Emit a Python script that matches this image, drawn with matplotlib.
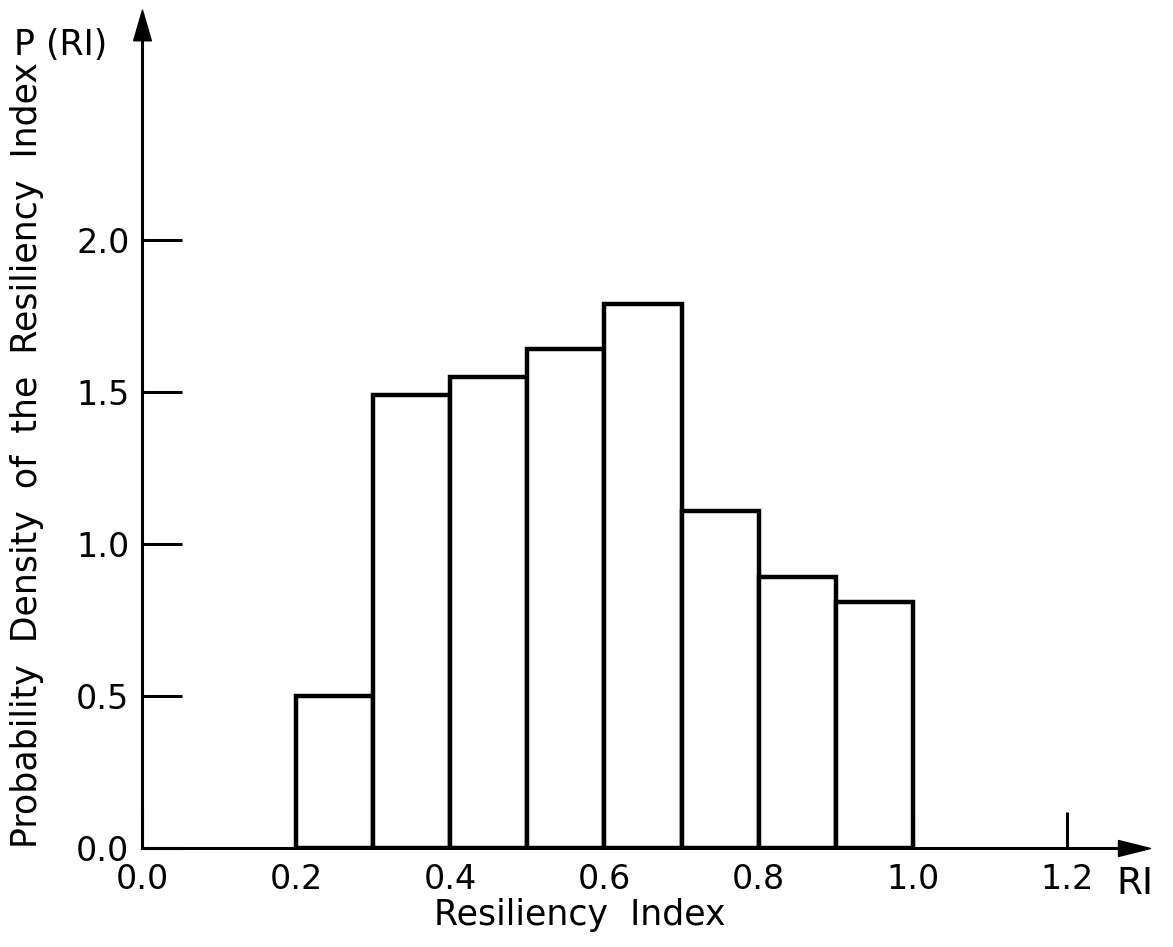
import numpy as np
import matplotlib
matplotlib.use("Agg")
import matplotlib.pyplot as plt

# histogram of the resiliency index
bin_edges = [0.2, 0.3, 0.4, 0.5, 0.6, 0.7, 0.8, 0.9, 1.0]
density = [0.50, 1.49, 1.55, 1.64, 1.79, 1.11, 0.89, 0.81]

x_ticks = [0.0, 0.2, 0.4, 0.6, 0.8, 1.0, 1.2]
x_labels = ["0.0", "0.2", "0.4", "0.6", "0.8", "1.0", "1.2"]
y_ticks = [0.0, 0.5, 1.0, 1.5, 2.0]
y_labels = ["0.0", "0.5", "1.0", "1.5", "2.0"]

plt.rcParams['font.family'] = ['DejaVu Sans']

W, H = 1173, 947
fig = plt.figure(figsize=(W / 100, H / 100), dpi=100)
# axes: left spine at x=142px, x-axis at y=848px, arrow heads centred at the axes ends
ax = fig.add_axes([142 / W, 99 / H, (1134 - 142) / W, (848 - 25) / H])

lefts = np.array(bin_edges[:-1])
widths = np.diff(bin_edges)
ax.bar(lefts, density, width=widths, align='edge', facecolor='white',
       edgecolor='black', linewidth=3.2, zorder=2)

ax.set_xlim(0, 1.287)
ax.set_ylim(0, 2.707)

for s in ['top', 'right']:
    ax.spines[s].set_visible(False)
for s in ['left', 'bottom']:
    ax.spines[s].set_linewidth(2.2)
    ax.spines[s].set_zorder(3)

# arrow heads at the ends of the axes
up = [(-0.58, -1), (0.58, -1), (0, 1), (-0.58, -1)]
right = [(-1, -0.5), (-1, 0.5), (1, 0), (-1, -0.5)]
ax.plot(0, 1, marker=up, markersize=22, color='black', transform=ax.transAxes,
        clip_on=False, zorder=4)
ax.plot(1, 0, marker=right, markersize=23, color='black', transform=ax.transAxes,
        clip_on=False, zorder=4)

ax.set_xticks(x_ticks)
ax.set_xticklabels(x_labels)
ax.set_yticks(y_ticks)
ax.set_yticklabels(y_labels)
ax.tick_params(axis='x', direction='in', length=26, width=2.2, pad=11, labelsize=24)
ax.tick_params(axis='y', direction='in', length=29, width=2.2, pad=9, labelsize=24)

ax.set_xlabel("Resiliency  Index", fontsize=25)
ax.xaxis.set_label_coords(580 / W, 1 - 898 / H, transform=fig.transFigure)
ax.set_ylabel("Probability  Density  of  the  Resiliency  Index", fontsize=25)
ax.yaxis.set_label_coords(44 / W, 1 - 455 / H, transform=fig.transFigure)

fig.text(14 / W, 1 - 45 / H, "P (RI)", fontsize=25, ha='left', va='center')
fig.text(1116 / W, 1 - 884 / H, "RI", fontsize=27, ha='left', va='center')

fig.savefig("out.png", dpi=100)
